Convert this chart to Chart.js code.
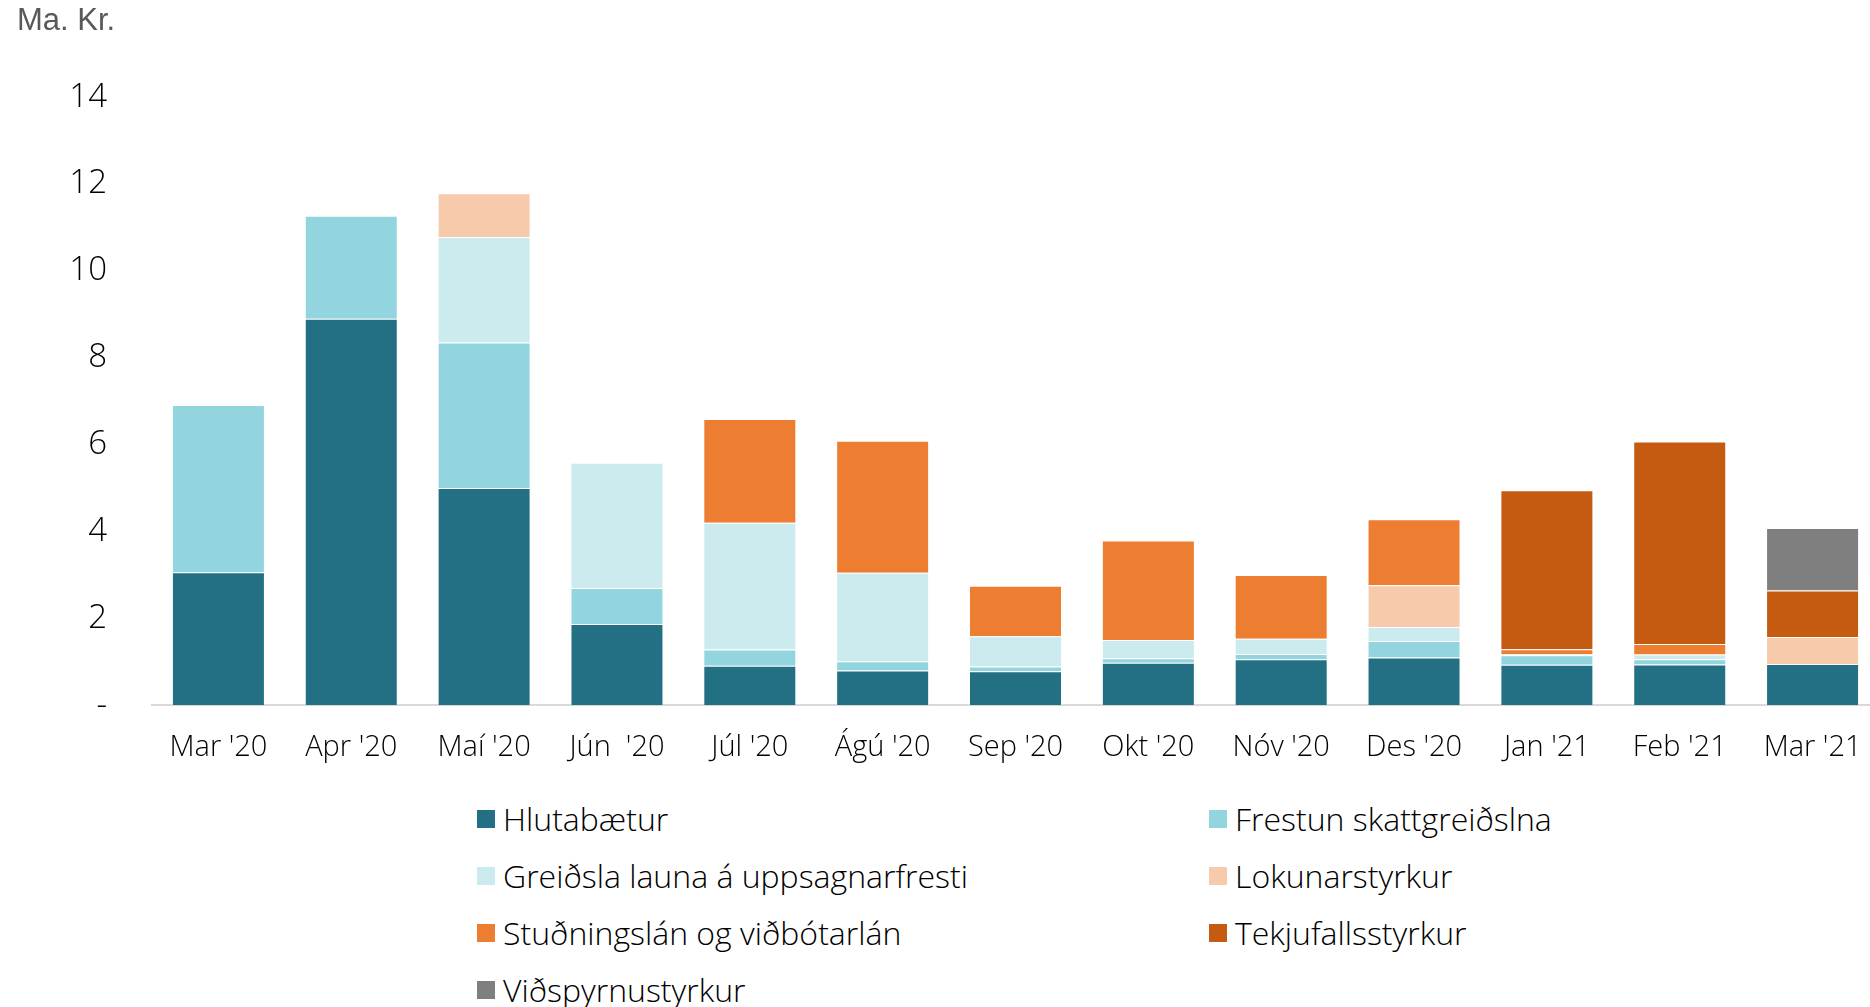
<!DOCTYPE html>
<html lang="is">
<head>
<meta charset="utf-8">
<title>Stuðningsúrræði</title>
<script src="https://cdn.jsdelivr.net/npm/chart.js@4.4.1/dist/chart.umd.min.js"></script>
<style>
  html, body { margin: 0; padding: 0; background: #fff; overflow: hidden; }
  body { width: 1870px; height: 1007px; position: relative; }
  #chart-wrap { position: absolute; left: 0; top: 0; width: 1880px; height: 790px; }
  #legend {
    position: absolute; left: 477px; top: 790px;
    display: grid; grid-template-columns: 732px 420px; grid-auto-rows: 57px;
    font-family: 'Open Sans', sans-serif; font-weight: 300; font-size: 32px; color: #000;
  }
  #legend .item { display: flex; align-items: center; white-space: nowrap; }
  #legend .box { width: 18px; height: 18px; margin-right: 8px; flex: none; }
</style>
</head>
<body>
<div id="chart-wrap"><canvas id="chart"></canvas></div>
<div id="legend"></div>
<script>
// --- GÖGN ---
const manudir = ["Mar '20", "Apr '20", "Maí '20", "Jún  '20", "Júl '20", "Ágú '20", "Sep '20",
  "Okt '20", "Nóv '20", "Des '20", "Jan '21", "Feb '21", "Mar '21"];

const hlutabaetur = [3.06, 8.9, 5.0, 1.87, 0.91, 0.80, 0.78, 0.98, 1.06, 1.10, 0.93, 0.94, 0.95];
const frestun = [3.85, 2.37, 3.35, 0.83, 0.37, 0.21, 0.11, 0.10, 0.12, 0.38, 0.22, 0.12, null];
const greidsla = [null, null, 2.43, 2.88, 2.92, 2.04, 0.70, 0.42, 0.35, 0.32, 0.03, 0.11, null];
const lokunarstyrkur = [null, null, 1.01, null, null, null, null, null, null, 0.96, null, null, 0.62];
const studningslan = [null, null, null, null, 2.39, 3.04, 1.16, 2.29, 1.47, 1.52, 0.11, 0.24, null];
const tekjufall = [null, null, null, null, null, null, null, null, null, null, 3.66, 4.66, 1.07];
const vidspyrna = [null, null, null, null, null, null, null, null, null, null, null, null, 1.44];

const yTicks = [0, 2, 4, 6, 8, 10, 12, 14];

const radir = [
  { label: 'Hlutabætur', data: hlutabaetur, color: '#236F84' },
  { label: 'Frestun skattgreiðslna', data: frestun, color: '#92D5DF' },
  { label: 'Greiðsla launa á uppsagnarfresti', data: greidsla, color: '#CCEBEE' },
  { label: 'Lokunarstyrkur', data: lokunarstyrkur, color: '#F7CAAC' },
  { label: 'Stuðningslán og viðbótarlán', data: studningslan, color: '#ED7D31' },
  { label: 'Tekjufallsstyrkur', data: tekjufall, color: '#C55A11' },
  { label: 'Viðspyrnustyrkur', data: vidspyrna, color: '#7F7F7F' },
];

// --- GRAF ---
const ctx = document.getElementById('chart').getContext('2d');
const chart = new Chart(ctx, {
  type: 'bar',
  data: {
    labels: manudir,
    datasets: radir.map((r) => ({
      label: r.label,
      data: r.data,
      backgroundColor: r.color,
      borderColor: 'rgba(255,255,255,0.45)',
      borderWidth: 1,
      barPercentage: 0.7,
      categoryPercentage: 1,
    })),
  },
  options: {
    responsive: true,
    maintainAspectRatio: false,
    animation: false,
    layout: { padding: { left: 17, right: 1, top: 0, bottom: 0 } },
    scales: {
      x: {
        stacked: true,
        afterFit: (scale) => {
          // merkin mega ná út fyrir jaðarinn
          scale.paddingLeft = 0;
          scale.paddingRight = 0;
        },
        grid: { display: false, drawTicks: false },
        border: { color: '#d9d9d9', width: 2 },
        ticks: {
          color: '#000',
          padding: 25,
          maxRotation: 0,
          font: { family: 'Open Sans', size: 29, weight: 300 },
        },
      },
      y: {
        stacked: true,
        min: 0,
        max: 14,
        afterBuildTicks: (scale) => {
          scale.ticks = yTicks.map((v) => ({ value: v }));
        },
        afterFit: (scale) => {
          scale.width = 135;
        },
        grid: { display: false, drawTicks: false },
        border: { display: false },
        ticks: {
          color: '#000',
          padding: 45,
          font: { family: 'Open Sans', size: 33, weight: 300 },
          callback: (v) => (v === 0 ? '-' : v),
        },
      },
    },
    plugins: {
      legend: { display: false },
      tooltip: { enabled: false },
      title: {
        display: true,
        text: 'Ma. Kr.',
        align: 'start',
        color: '#595959',
        font: { family: 'Liberation Sans', size: 31, weight: 'normal' },
        padding: { top: 3, bottom: 57 },
      },
    },
  },
});

// --- SKÝRINGAR ---
const legendEl = document.getElementById('legend');
chart.options.plugins.legend.labels.generateLabels(chart).forEach((item) => {
  const div = document.createElement('div');
  div.className = 'item';
  const box = document.createElement('span');
  box.className = 'box';
  box.style.background = item.fillStyle;
  const txt = document.createElement('span');
  txt.textContent = item.text;
  div.appendChild(box);
  div.appendChild(txt);
  legendEl.appendChild(div);
});
</script>
</body>
</html>
